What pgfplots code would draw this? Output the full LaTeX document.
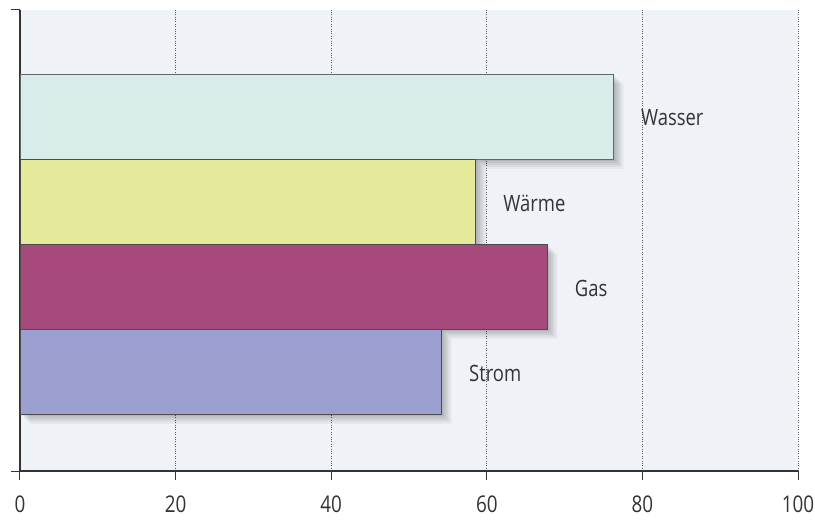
\documentclass[border=0pt]{standalone}
\usepackage{pgfplots}
\pgfplotsset{compat=1.18}
\usepackage{fontspec}
\setmainfont{Open Sans}[FakeStretch=0.82]
\usetikzlibrary{calc}
\definecolor{bgc}{HTML}{EFF3F7}
\definecolor{cWasser}{HTML}{D8ECEA}
\definecolor{cWaerme}{HTML}{E5EA9B}
\definecolor{cGas}{HTML}{A54A7A}
\definecolor{cStrom}{HTML}{9CA0D0}
\definecolor{txt}{HTML}{333333}
\begin{document}
\begin{tikzpicture}
\begin{axis}[
  name=ax,
  scale only axis,
  width=778pt, height=461pt,
  xmin=0, xmax=100,
  ymin=-1.171, ymax=4.253,
  xtick={0,20,40,60,80,100},
  ytick={-1.171,4.253},
  yticklabels={},
  axis lines*=left,
  axis line style={line width=1.2pt, black!80},
  tick style={line width=1pt, black!80},
  tick align=outside,
  major tick length=9pt,
  xmajorgrids,
  major grid style={dash pattern=on 0.8pt off 1.6pt, black!65, line width=0.8pt},
  axis background/.style={fill=bgc},
  /pgf/number format/assume math mode=true,
  xticklabel style={font=\fontsize{23}{26}\selectfont, text=txt, anchor=base, yshift=-32pt},
  xbar, bar shift=0pt, bar width=1,
  clip=false,
  every node near coord/.append style={font=\fontsize{22.5}{26}\selectfont, text=txt, anchor=west, inner sep=0pt, xshift=27pt, yshift=-1.5pt},
]
% shadows
\foreach \s/\o in {2/0.06,4/0.06,6/0.06,8/0.05,10/0.04} {
  \edef\tmp{\noexpand\addplot[draw=none, fill=black, fill opacity=\o, xshift=\s pt, yshift=-\s pt, forget plot] coordinates {(76.3,3) (58.6,2) (67.8,1) (54.2,0)};}
  \tmp
}
\addplot[draw=black!60, line width=0.9pt, fill=cWasser, nodes near coords={Wasser}] coordinates {(76.3,3)};
\addplot[draw=black!70, line width=0.9pt, fill=cWaerme, nodes near coords={Wärme}] coordinates {(58.6,2)};
\addplot[draw=black!70, line width=0.9pt, fill=cGas, nodes near coords={Gas}] coordinates {(67.8,1)};
\addplot[draw=black!70, line width=0.9pt, fill=cStrom, nodes near coords={Strom}] coordinates {(54.2,0)};
\end{axis}
\pgfresetboundingbox
\useasboundingbox ($(ax.south west)+(-20pt,-49pt)$) rectangle ($(ax.south west)+(795pt,471pt)$);
\end{tikzpicture}
\end{document}
